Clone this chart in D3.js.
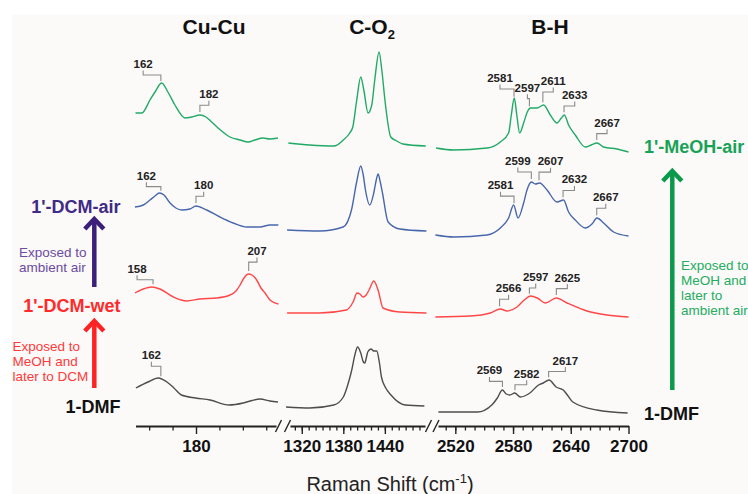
<!DOCTYPE html>
<html>
<head>
<meta charset="utf-8">
<script src="https://cdn.jsdelivr.net/npm/d3@7"></script>
<style>body{margin:0;background:#fff}</style>
</head>
<body>
<script>
// sample names, bottom to top
const seriesNames = ['1-DMF', "1'-DCM-wet", "1'-DCM-air", "1'-MeOH-air"];
const seriesOffsets = [1.2, 10.8, 18.8, 27.3];

// panel titles and axis ticks
const panelTitles = ['Cu-Cu', 'C-O', 'B-H'];
const panelDomains = [[149, 221], [1303, 1498], [2502, 2700]];
const majorTicks = [[180], [1320, 1380, 1440], [2520, 2580, 2640, 2700]];
const minorTicks = [[156, 168, 192, 204, 216], d3.range(1310, 1500, 10), d3.range(2510, 2700, 10)];

// spectra: [Raman shift, intensity]
const dmfCuCu = [[149.2,2.6],[155.4,3.2],[160.7,3.6],[165.1,3.2],[168.7,2.6],[172.5,1.9],[179.8,1.6],[187.2,1.4],[196.9,0.9],[204.2,1.1],[208.7,1.35],[212.8,1.5],[217.9,1.3],[222,1.2]];
const dmfCO2 = [[1297.3,0.7],[1331.6,0.6],[1366.2,0.9],[1380,1.7],[1386.4,2.9],[1392.2,4.4],[1397,6.0],[1400.6,6.7],[1405.2,6.1],[1409,5.2],[1411,5.1],[1413.5,5.7],[1415.3,6.2],[1420,6.5],[1424,6.3],[1428.3,6.3],[1432,5.2],[1435.1,3.7],[1441.3,2.6],[1448.8,1.9],[1469.5,0.9],[1497.1,0.8]];
const dmfBH = [[2502.4,0.2],[2542.9,0.2],[2557.9,0.9],[2563.7,1.6],[2568.9,2.4],[2573,2.0],[2576.7,1.9],[2581.7,2.1],[2587.6,1.7],[2597.5,2.1],[2606.5,2.9],[2611.5,3.1],[2617.4,3.4],[2624.8,2.7],[2632.2,2.4],[2636.4,1.9],[2642.1,1.2],[2667,0.4],[2699.1,0.1]];

const wetCuCu = [[148.7,2.5],[153,2.9],[157.3,3.1],[161.5,2.9],[168.4,2.1],[175.2,1.7],[182,1.9],[190.6,2.0],[197.4,2.3],[200.5,2.7],[202.6,3.3],[204.6,4.0],[206.8,4.4],[208.7,4.3],[211.1,3.8],[213.3,3.0],[215.4,2.5],[217.9,1.8],[222.2,1.4]];
const wetCO2 = [[1298.8,0.5],[1346,0.5],[1384.6,0.8],[1394.1,1.6],[1399.9,2.5],[1404,2.4],[1408.5,2.1],[1413,2.3],[1417.2,2.8],[1424,3.7],[1430.2,2.8],[1437.4,1.0],[1461.6,0.6],[1500.1,0.5]];
const wetBH = [[2499.3,0.1],[2535.6,0.2],[2556.4,0.5],[2566.8,0.9],[2573.8,0.7],[2584.2,1.1],[2591.7,1.8],[2598,2.2],[2605.2,2.0],[2613.5,1.5],[2625,2.0],[2636.1,1.5],[2656.8,0.7],[2677.6,0.3],[2700,0.1]];

const airCuCu = [[148.7,3.1],[153,3.3],[156.4,3.8],[159,4.2],[161.2,4.5],[163.6,4.3],[166.7,3.5],[169.7,3.0],[172.7,2.8],[176.9,2.9],[180,3.2],[182,3.1],[185.5,2.8],[192.3,2.1],[199.1,1.5],[206,1.1],[212.8,1.1],[217.9,1.3],[222.2,1.3]];
const airCO2 = [[1298.8,0.8],[1346,0.7],[1379.7,1.1],[1391.8,2.8],[1399,5.5],[1405.2,7.2],[1408.8,6.3],[1412,4.8],[1418.2,3.3],[1424,4.5],[1427.6,5.8],[1430.2,6.4],[1433.4,5.6],[1436.6,4.5],[1444.7,1.6],[1461.6,0.9],[1500.1,0.7]];
const airBH = [[2499.3,0.3],[2518.3,0.1],[2553,0.3],[2566.8,1.0],[2575.4,2.0],[2580.6,3.3],[2585.2,2.0],[2591,3.5],[2594.5,4.8],[2599,5.6],[2603.2,5.4],[2607.6,5.5],[2615.3,4.8],[2625.7,3.6],[2632.5,3.8],[2637.7,2.6],[2644.7,1.8],[2655.1,1.0],[2662,1.4],[2667.2,2.0],[2674.1,1.5],[2684.5,0.6],[2700,0.2]];

const meohCuCu = [[149,4.0],[152.3,4.0],[156.4,5.3],[159,6.1],[162.4,7.0],[165.6,6.1],[169.2,4.8],[174.4,3.5],[177.9,3.6],[182,3.8],[185.1,3.6],[188,3.1],[191.3,2.5],[197.4,1.6],[202.6,1.3],[206.7,1.1],[210.2,1.3],[214.3,1.5],[217.9,1.4],[222,1.5]];
const meohCO2 = [[1300.6,1.0],[1331.6,0.8],[1366.2,0.7],[1380,1.3],[1389.3,2.0],[1393.7,2.6],[1399.4,5.3],[1405.2,7.6],[1409.6,6.3],[1415.8,4.0],[1421.1,4.8],[1425.4,7.3],[1431.7,10.1],[1435.6,8.3],[1440.6,5.0],[1448.6,1.6],[1457.2,1.2],[1465.9,0.9],[1499.1,0.7]];
const meohBH = [[2500,0.5],[2518,0.3],[2553,0.5],[2566.8,1.1],[2575.4,2.0],[2578.2,3.8],[2581.3,5.5],[2583.9,3.8],[2586.9,2.0],[2591,3.0],[2594.8,4.1],[2598,4.5],[2604.9,4.5],[2611.8,4.8],[2618.7,3.8],[2625.7,3.0],[2630.2,3.5],[2633.3,3.8],[2637.7,2.8],[2644.7,1.8],[2655.1,0.6],[2661.3,0.8],[2667.2,1.0],[2674.1,0.6],[2688,0.4],[2700,0.1]];

const spectra = [
  [dmfCuCu, dmfCO2, dmfBH],
  [wetCuCu, wetCO2, wetBH],
  [airCuCu, airCO2, airBH],
  [meohCuCu, meohCO2, meohBH]
];

// peak labels: [series, panel, label]
const peakLabels = [
  [3,0,'162'],[3,0,'182'],[3,2,'2581'],[3,2,'2597'],[3,2,'2611'],[3,2,'2633'],[3,2,'2667'],
  [2,0,'162'],[2,0,'180'],[2,2,'2581'],[2,2,'2599'],[2,2,'2607'],[2,2,'2632'],[2,2,'2667'],
  [1,0,'158'],[1,0,'207'],[1,2,'2566'],[1,2,'2597'],[1,2,'2625'],
  [0,0,'162'],[0,2,'2569'],[0,2,'2582'],[0,2,'2617']
];
// where each label text sits relative to its peak: [dx, rise] in px
const labelPlace = [
  [-17.7,16],[9,16.7],[-14,17.6],[-2,17.6],[10.4,20.3],[10.7,16.3],[10.3,16.4],
  [-14.5,14],[7.7,16.7],[-13.5,17],[-13.5,17],[11.5,18],[11.4,16.7],[9,17],
  [-16,14.6],[8.3,19],[9,17],[6.3,15.7],[11,16.4],
  [-9.5,20],[-13,15.7],[11.7,15.4],[16.7,15.7]
];

const lineColors = ['#4d4d4d', '#ff4747', '#4767ac', '#1faa66'];
const panelRanges = [[135.5, 276], [290, 425], [438, 628.5]];
const titleX = [214, 372, 550];
const axisY = 426;

const svg = d3.select('body').append('svg')
  .attr('width', 748).attr('height', 494)
  .style('font-family', '"Liberation Sans", Arial, sans-serif');

svg.append('rect').attr('x', 12).attr('y', 15).attr('width', 736).attr('height', 479).attr('fill', '#fcf9f9');

const xs = panelDomains.map((d, i) => d3.scaleLinear().domain(d).range(panelRanges[i]));
const y = d3.scaleLinear().domain([0, 40]).range([axisY, 26]);

const line = d3.line().curve(d3.curveMonotoneX);

// spectra
spectra.forEach((panels, s) => {
  panels.forEach((pts, p) => {
    svg.append('path')
      .attr('d', line(pts.map(d => [xs[p](d[0]), y(seriesOffsets[s] + d[1])])))
      .attr('fill', 'none')
      .attr('stroke', lineColors[s])
      .attr('stroke-width', 1.4)
      .attr('stroke-linejoin', 'round');
  });
});

// interpolated intensity at a shift
function valueAt(pts, v) {
  const i = d3.bisector(d => d[0]).left(pts, v);
  if (i <= 0) return pts[0][1];
  if (i >= pts.length) return pts[pts.length - 1][1];
  const a = pts[i - 1], b = pts[i];
  const t = (v - a[0]) / (b[0] - a[0]);
  return a[1] + t * (b[1] - a[1]);
}

// peak labels with step brackets
peakLabels.forEach((lab, k) => {
  const [s, p, txt] = lab;
  const v = +txt;
  const px = xs[p](v);
  const py = y(seriesOffsets[s] + valueAt(spectra[s][p], v));
  const tx = px + labelPlace[k][0];
  const base = py - labelPlace[k][1];
  const h = base + 7;
  svg.append('path')
    .attr('d', `M${tx},${base + 2.5}V${h}H${px}V${py - 3}`)
    .attr('fill', 'none').attr('stroke', '#8a8a8a').attr('stroke-width', 1.1);
  svg.append('text')
    .attr('x', tx).attr('y', base)
    .attr('text-anchor', 'middle')
    .attr('font-size', 11.5).attr('font-weight', 'bold').attr('fill', '#222')
    .text(txt);
});

// axes
xs.forEach((x, p) => {
  const gMinor = svg.append('g').attr('transform', `translate(0,${axisY})`)
    .call(d3.axisBottom(x).tickValues(minorTicks[p]).tickSize(4.5).tickFormat(''));
  gMinor.select('.domain').remove();
  gMinor.selectAll('line').attr('stroke', '#222').attr('stroke-width', 1.3);

  const gMajor = svg.append('g').attr('transform', `translate(0,${axisY})`)
    .call(d3.axisBottom(x).tickValues(majorTicks[p]).tickSize(8).tickSizeOuter(0)
      .tickPadding(6).tickFormat(d3.format('d')));
  gMajor.select('.domain').attr('stroke', '#222').attr('stroke-width', 2);
  gMajor.selectAll('line').attr('stroke', '#222').attr('stroke-width', 1.4);
  gMajor.selectAll('text')
    .attr('font-size', 17).attr('font-weight', 'bold').attr('fill', '#111')
    .attr('font-family', '"Liberation Sans", Arial, sans-serif');
});

// axis breaks
[278.5, 287.5, 428.5, 436].forEach(bx => {
  svg.append('line')
    .attr('x1', bx - 3).attr('y1', axisY + 6).attr('x2', bx + 3).attr('y2', axisY - 6)
    .attr('stroke', '#222').attr('stroke-width', 1.4);
});

// panel titles
panelTitles.forEach((t, i) => {
  const tt = svg.append('text').attr('x', titleX[i]).attr('y', 33.5)
    .attr('text-anchor', 'middle')
    .attr('font-size', 21).attr('font-weight', 'bold').attr('fill', '#111')
    .text(t);
  if (t === 'C-O') tt.append('tspan').attr('font-size', 13).attr('dy', 5).text('2');
});

// x-axis title
const xt = svg.append('text').attr('x', 390).attr('y', 491)
  .attr('text-anchor', 'middle').attr('font-size', 20).attr('fill', '#222')
  .text('Raman Shift (cm');
xt.append('tspan').attr('font-size', 13).attr('dy', -8).text('-1');
xt.append('tspan').attr('dy', 8).text(')');

// sample labels, left
const leftLabels = [
  {t: seriesNames[2], y: 213, c: '#3f2a85'},
  {t: seriesNames[1], y: 311.5, c: '#ff2a2a'},
  {t: seriesNames[0], y: 413, c: '#111'}
];
leftLabels.forEach(d => {
  svg.append('text').attr('x', 120.5).attr('y', d.y).attr('text-anchor', 'end')
    .attr('font-size', 18).attr('font-weight', 'bold').attr('fill', d.c).text(d.t);
});
// sample labels, right
svg.append('text').attr('x', 644).attr('y', 153).attr('font-size', 18).attr('font-weight', 'bold')
  .attr('fill', '#17a256').text(seriesNames[3]);
svg.append('text').attr('x', 644).attr('y', 419.5).attr('font-size', 18).attr('font-weight', 'bold')
  .attr('fill', '#111').text(seriesNames[0]);

// arrows
function arrow(x, y0, y1, color) {
  svg.append('line').attr('x1', x).attr('y1', y0).attr('x2', x).attr('y2', y1 + 2)
    .attr('stroke', color).attr('stroke-width', 4.5);
  svg.append('path').attr('d', `M${x - 9.5},${y1 + 11}L${x},${y1 + 1}L${x + 9.5},${y1 + 11}`)
    .attr('fill', 'none').attr('stroke', color).attr('stroke-width', 4.5);
}
arrow(94.3, 287, 218, '#3b1f7a');
arrow(94.3, 388, 320, '#ff2222');
arrow(672.3, 390, 170, '#0b9a4c');

// process notes
function note(x, y0, lines, color) {
  lines.forEach((l, i) => {
    svg.append('text').attr('x', x).attr('y', y0 + i * 15.3)
      .attr('font-size', 13.5).attr('fill', color).text(l);
  });
}
note(19, 257, ['Exposed to', 'ambient air'], '#6b4c9e');
note(12.5, 350.5, ['Exposed to', 'MeOH and', 'later to DCM'], '#ff3a3a');
note(681, 269.5, ['Exposed to', 'MeOH and', 'later to', 'ambient air'], '#22ad5f');
</script>
</body>
</html>
